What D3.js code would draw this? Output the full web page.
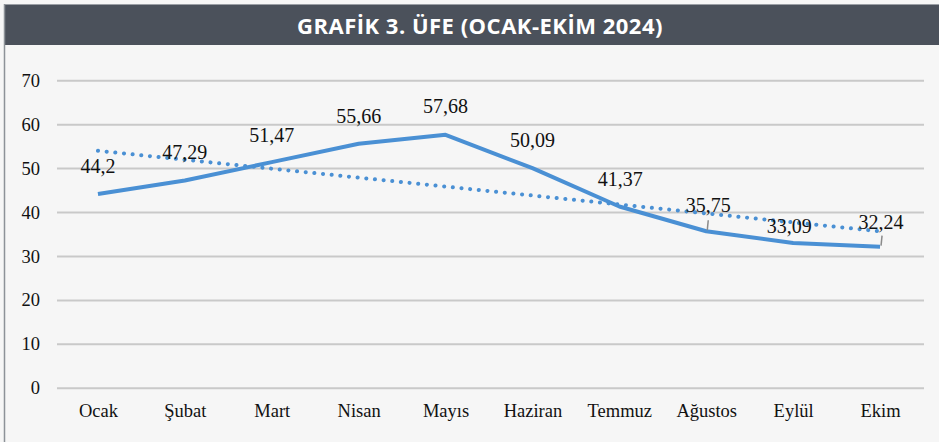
<!DOCTYPE html>
<html>
<head>
<meta charset="utf-8">
<script src="https://cdn.jsdelivr.net/npm/d3@7/dist/d3.min.js"></script>
<style>
	html, body { margin: 0; padding: 0; background: #fff; }
	svg { display: block; }
	.vis__axis text { font-family: 'Liberation Serif', serif; font-size: 18.5px; fill: #111; }
	.vis__label { font-family: 'Liberation Serif', serif; font-size: 20px; fill: #111; }
	.vis__title { font-family: 'Open Sans', sans-serif; font-weight: 700; font-size: 22px; letter-spacing: 0.5px; fill: #fff; }
</style>
</head>
<body>
<svg id="chart" width="939" height="442"></svg>
<script>
var months = ['Ocak', 'Şubat', 'Mart', 'Nisan', 'Mayıs', 'Haziran', 'Temmuz', 'Ağustos', 'Eylül', 'Ekim'];
var ufe = [44.2, 47.29, 51.47, 55.66, 57.68, 50.09, 41.37, 35.75, 33.09, 32.24];
var trendEnds = [54.05, 35.72];
var yTicks = [0, 10, 20, 30, 40, 50, 60, 70];
var titleText = 'GRAFİK 3. ÜFE (OCAK-EKİM 2024)';

// label offsets (dx, dy) relative to the point
var labelShift = [[0, -21], [0, -21], [0, -20], [0, -21], [0, -22], [0, -21], [1, -21], [2, -19], [-4, -10], [1, -18]];
var leaders = { 7: true, 9: true };

var svg = d3.select('#chart');
var W = 939, H = 442;
var m = { left: 54.5, right: 15.5, top: 80.7, bottom: 53.7 };

svg.append('rect').attr('width', W).attr('height', H).attr('fill', '#f6f6f6');
svg.append('rect').attr('x', 4).attr('y', 4).attr('width', W - 4).attr('height', 41).attr('fill', '#4b515b');
svg.append('line').attr('x1', 4).attr('x2', W).attr('y1', 4.5).attr('y2', 4.5).attr('stroke', '#9a9ea4').attr('stroke-width', 1);
svg.append('line').attr('x1', 4.5).attr('x2', 4.5).attr('y1', 4).attr('y2', H).attr('stroke', '#8d9298').attr('stroke-width', 1.5);
svg.append('text').classed('vis__title', true)
	.attr('x', 480).attr('y', 34).attr('text-anchor', 'middle').text(titleText);

var x = d3.scalePoint().domain(months).range([m.left, W - m.right]).padding(0.5);
var y = d3.scaleLinear().domain([0, 70]).range([H - m.bottom, m.top]);

var grid = svg.append('g');
grid.selectAll('line').data(yTicks).enter().append('line')
	.attr('x1', 57).attr('x2', 924)
	.attr('y1', function(d) { return y(d); }).attr('y2', function(d) { return y(d); })
	.attr('stroke', '#c9c9c9').attr('stroke-width', 2);

var leftAxis = svg.append('g').classed('vis__axis', true).attr('transform', 'translate(40,0)')
	.call(d3.axisLeft(y).tickValues(yTicks).tickSize(0).tickPadding(0));
leftAxis.select('.domain').remove();
leftAxis.selectAll('text').attr('dy', '0.3em');

var bottomAxis = svg.append('g').classed('vis__axis', true).attr('transform', 'translate(0,' + (H - m.bottom) + ')')
	.call(d3.axisBottom(x).tickSize(0).tickPadding(16));
bottomAxis.select('.domain').remove();

var pts = ufe.map(function(v, i) { return [x(months[i]), y(v)]; });

svg.append('line')
	.attr('x1', x(months[0])).attr('y1', y(trendEnds[0]))
	.attr('x2', x(months[months.length - 1])).attr('y2', y(trendEnds[1]))
	.attr('stroke', '#4a90d4').attr('stroke-width', 4)
	.attr('stroke-linecap', 'round').attr('stroke-dasharray', '0.1 8.6');

svg.append('path').datum(pts)
	.attr('d', d3.line())
	.attr('fill', 'none').attr('stroke', '#4a90d4').attr('stroke-width', 4)
	.attr('stroke-linejoin', 'round');

var labels = svg.append('g');
ufe.forEach(function(v, i) {
	var p = pts[i], s = labelShift[i];
	if (leaders[i]) {
		labels.append('line')
			.attr('x1', p[0] + 1).attr('y1', p[1] - 1)
			.attr('x2', p[0] + 2).attr('y2', p[1] - 11)
			.attr('stroke', '#8a8a8a').attr('stroke-width', 1.5);
	}
	labels.append('text').classed('vis__label', true)
		.attr('x', p[0] + s[0]).attr('y', p[1] + s[1])
		.attr('text-anchor', 'middle')
		.text(d3.format('.2f')(v).replace(/0+$/, '').replace('.', ','));
});
</script>
</body>
</html>
